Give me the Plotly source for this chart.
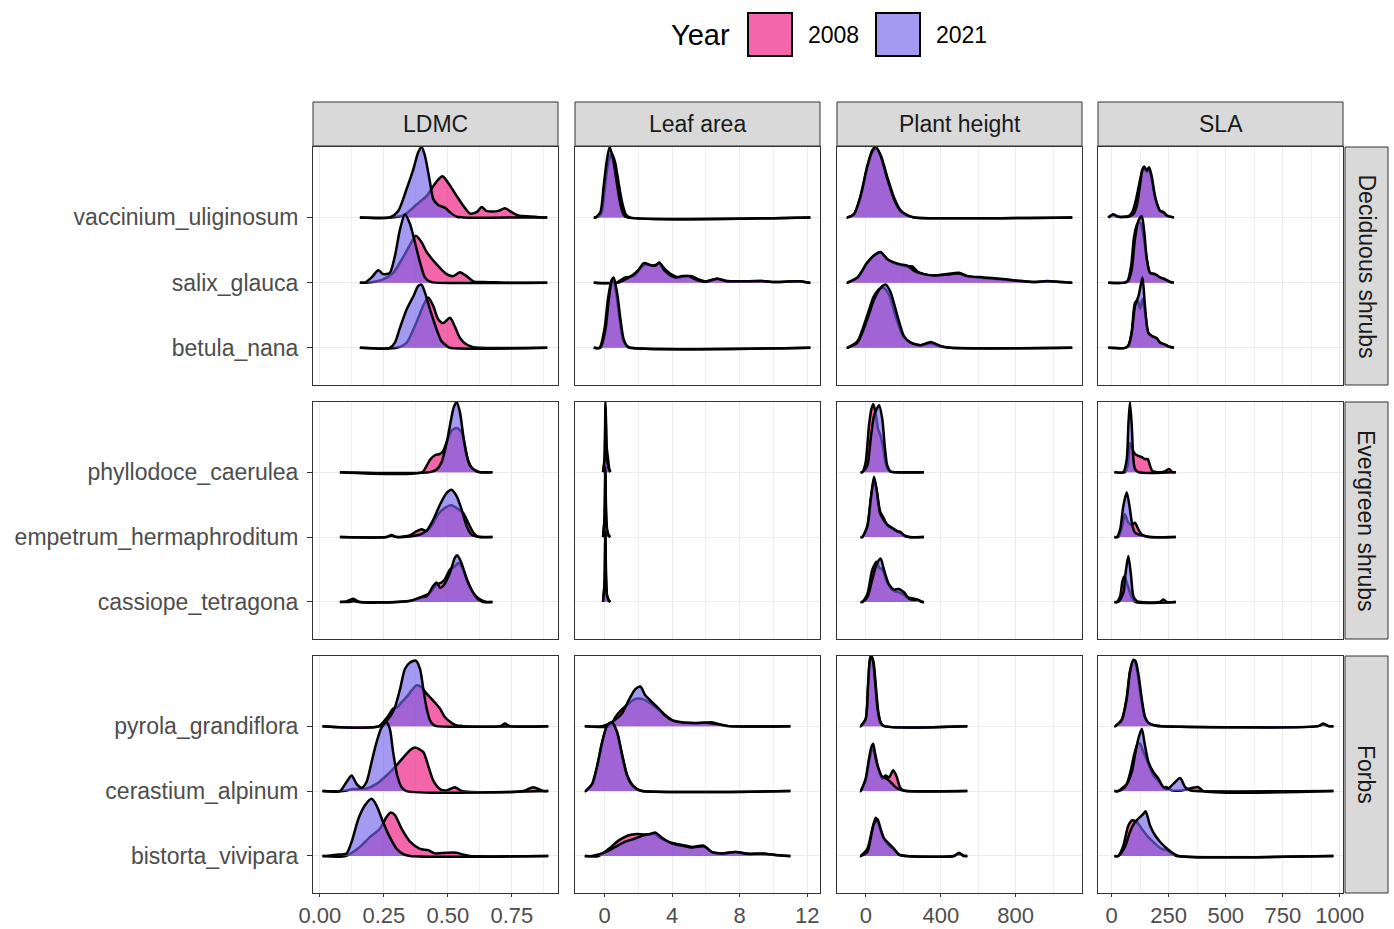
import plotly.graph_objects as go

W, H = 1394, 929

# ---------------- data ----------------
traits = ["LDMC", "Leaf area", "Plant height", "SLA"]
groups = ["Deciduous shrubs", "Evergreen shrubs", "Forbs"]
species_by_group = {
    "Deciduous shrubs": ["vaccinium_uliginosum", "salix_glauca", "betula_nana"],
    "Evergreen shrubs": ["phyllodoce_caerulea", "empetrum_hermaphroditum", "cassiope_tetragona"],
    "Forbs": ["pyrola_grandiflora", "cerastium_alpinum", "bistorta_vivipara"],
}
years = ["2008", "2021"]

x_tick_vals = {
    "LDMC": [0, 0.25, 0.5, 0.75],
    "Leaf area": [0, 4, 8, 12],
    "Plant height": [0, 400, 800],
    "SLA": [0, 250, 500, 750, 1000],
}
x_tick_text = {
    "LDMC": ["0.00", "0.25", "0.50", "0.75"],
    "Leaf area": ["0", "4", "8", "12"],
    "Plant height": ["0", "400", "800"],
    "SLA": ["0", "250", "500", "750", "1000"],
}
x_minor_vals = {
    "LDMC": [0.125, 0.375, 0.625, 0.875],
    "Leaf area": [2, 6, 10],
    "Plant height": [200, 600, 1000],
    "SLA": [125, 375, 625, 875],
}

# data extent of each panel's ridgelines (group -> trait -> [min, max])
extent = {
    "Deciduous shrubs": {"LDMC": [0.156, 0.888], "Leaf area": [-0.64, 12.18],
                         "Plant height": [-103, 1103], "SLA": [-15, 273]},
    "Evergreen shrubs": {"LDMC": [0.078, 0.674], "Leaf area": [-0.09, 0.34],
                         "Plant height": [-29, 310], "SLA": [12, 281]},
    "Forbs": {"LDMC": [0.01, 0.892], "Leaf area": [-1.17, 11.0],
              "Plant height": [-32, 542], "SLA": [12, 972]},
}

# density curves: species -> year -> (x values, relative heights)
ldmc_deciduous = {
    "vaccinium_uliginosum": {
        "2008": ([0.28, 0.326, 0.378, 0.417, 0.443, 0.462, 0.479, 0.508, 0.534, 0.56, 0.586, 0.612, 0.632, 0.651, 0.677, 0.697, 0.723, 0.749, 0.775, 0.82, 0.872],
                 [0, 0.03, 0.2, 0.33, 0.48, 0.58, 0.63, 0.49, 0.33, 0.18, 0.06, 0.08, 0.16, 0.1, 0.09, 0.1, 0.14, 0.08, 0.03, 0.015, 0]),
        "2021": ([0.273, 0.306, 0.339, 0.365, 0.384, 0.397, 0.41, 0.43, 0.443, 0.462, 0.488, 0.508, 0.534, 0.56],
                 [0, 0.1, 0.44, 0.74, 1.0, 1.08, 0.95, 0.54, 0.28, 0.19, 0.15, 0.08, 0.01, 0]),
    },
    "salix_glauca": {
        "2008": ([0.19, 0.247, 0.286, 0.319, 0.352, 0.375, 0.397, 0.417, 0.456, 0.495, 0.521, 0.547, 0.573, 0.599, 0.638, 0.69, 0.74],
                 [0, 0.05, 0.15, 0.35, 0.58, 0.72, 0.62, 0.47, 0.28, 0.13, 0.1, 0.16, 0.1, 0.02, 0.01, 0.005, 0]),
        "2021": ([0.176, 0.202, 0.228, 0.247, 0.273, 0.293, 0.313, 0.332, 0.352, 0.371, 0.391, 0.41, 0.43, 0.449],
                 [0, 0.08, 0.19, 0.13, 0.15, 0.41, 0.82, 1.05, 0.9, 0.62, 0.31, 0.08, 0.015, 0]),
    },
    "betula_nana": {
        "2008": ([0.3, 0.339, 0.378, 0.404, 0.423, 0.443, 0.462, 0.482, 0.508, 0.527, 0.547, 0.573, 0.599, 0.625],
                 [0, 0.08, 0.4, 0.65, 0.77, 0.64, 0.44, 0.38, 0.46, 0.33, 0.15, 0.05, 0.01, 0]),
        "2021": ([0.273, 0.293, 0.313, 0.339, 0.365, 0.384, 0.397, 0.41, 0.43, 0.456, 0.475, 0.495, 0.508],
                 [0, 0.08, 0.31, 0.59, 0.79, 0.95, 0.97, 0.85, 0.59, 0.28, 0.1, 0.03, 0]),
    },
}

leafarea_deciduous = {
    "vaccinium_uliginosum": {
        "2008": ([-0.5, -0.2, 0.0, 0.2, 0.42, 0.62, 0.85, 1.05, 1.25, 1.5],
                 [0, 0.06, 0.4, 0.82, 0.98, 0.85, 0.5, 0.22, 0.05, 0]),
        "2021": ([-0.54, -0.25, -0.05, 0.15, 0.3, 0.5, 0.74, 0.94, 1.13, 1.33],
                 [0, 0.08, 0.49, 0.9, 1.08, 0.9, 0.5, 0.2, 0.04, 0]),
    },
    "salix_glauca": {
        "2008": ([0.7, 1.23, 1.73, 2.12, 2.42, 2.81, 3.01, 3.24, 3.6, 4.0, 4.4, 4.79, 5.18, 5.57, 5.97, 6.66, 7.15, 7.94, 9.32, 9.91, 11.49, 12.1],
                 [0, 0.08, 0.1, 0.22, 0.28, 0.26, 0.27, 0.3, 0.2, 0.12, 0.08, 0.1, 0.1, 0.05, 0.02, 0.06, 0.03, 0.02, 0.025, 0.01, 0.02, 0]),
        "2021": ([0.84, 1.23, 1.73, 2.02, 2.32, 2.71, 3.01, 3.24, 3.5, 3.8, 4.19, 4.59, 4.98, 5.37, 5.97, 6.66, 7.15, 7.94, 9.32, 9.91, 11.49, 12.1],
                 [0, 0.05, 0.13, 0.2, 0.3, 0.27, 0.26, 0.31, 0.2, 0.13, 0.08, 0.1, 0.1, 0.05, 0.01, 0.06, 0.025, 0.02, 0.025, 0.01, 0.02, 0]),
    },
    "betula_nana": {
        "2008": ([-0.3, 0.0, 0.2, 0.4, 0.5, 0.7, 0.9, 1.1, 1.3, 1.5],
                 [0, 0.3, 0.75, 1.02, 1.05, 0.82, 0.42, 0.12, 0.03, 0]),
        "2021": ([-0.25, 0.05, 0.25, 0.44, 0.54, 0.74, 0.94, 1.13, 1.33, 1.53],
                 [0, 0.28, 0.74, 1.05, 1.08, 0.85, 0.44, 0.13, 0.03, 0]),
    },
}

height_deciduous = {
    "vaccinium_uliginosum": {
        "2008": ([-100, -64, -29, 7, 34, 55, 80, 116, 152, 187, 223, 260],
                 [0, 0.05, 0.32, 0.77, 1.0, 1.06, 0.94, 0.6, 0.29, 0.1, 0.03, 0]),
        "2021": ([-100, -64, -29, 7, 34, 52, 78, 114, 150, 185, 221, 257],
                 [0, 0.05, 0.33, 0.79, 1.03, 1.08, 0.95, 0.59, 0.28, 0.1, 0.03, 0]),
    },
    "salix_glauca": {
        "2008": ([-100, -46, 7, 52, 78, 114, 150, 185, 221, 248, 275, 310, 364, 453, 497, 542, 631, 720, 809, 898, 970, 1041, 1100],
                 [0, 0.07, 0.3, 0.43, 0.46, 0.36, 0.3, 0.27, 0.25, 0.25, 0.17, 0.13, 0.11, 0.14, 0.15, 0.1, 0.07, 0.05, 0.03, 0.01, 0.02, 0.01, 0]),
        "2021": ([-100, -46, 7, 52, 78, 114, 150, 185, 221, 257, 310, 364, 453, 497, 542, 631, 720, 809, 898, 970, 1041, 1100],
                 [0, 0.08, 0.31, 0.44, 0.47, 0.36, 0.31, 0.28, 0.26, 0.18, 0.13, 0.11, 0.13, 0.14, 0.1, 0.08, 0.06, 0.03, 0.01, 0.025, 0.01, 0]),
    },
    "betula_nana": {
        "2008": ([-100, -46, 7, 40, 70, 95, 125, 160, 200, 239, 292, 346, 399, 453],
                 [0, 0.1, 0.5, 0.78, 0.9, 0.92, 0.8, 0.47, 0.17, 0.08, 0.04, 0.07, 0.02, 0]),
        "2021": ([-100, -46, 7, 43, 78, 105, 132, 168, 203, 239, 292, 346, 399, 453],
                 [0, 0.08, 0.44, 0.74, 0.92, 0.97, 0.85, 0.49, 0.18, 0.08, 0.04, 0.09, 0.03, 0]),
    },
}

sla_deciduous = {
    "vaccinium_uliginosum": {
        "2008": ([-15, 7, 29, 73, 90, 105, 120, 133, 143, 154, 164, 175, 187, 197, 212, 227, 241, 273],
                 [0, 0.04, 0.01, 0.02, 0.08, 0.25, 0.5, 0.7, 0.75, 0.7, 0.74, 0.6, 0.36, 0.22, 0.1, 0.08, 0.03, 0]),
        "2021": ([-15, 7, 29, 73, 95, 110, 124, 135, 143, 154, 164, 175, 187, 197, 212, 227, 241, 273],
                 [0, 0.05, 0.01, 0.01, 0.05, 0.18, 0.49, 0.74, 0.78, 0.72, 0.77, 0.64, 0.38, 0.23, 0.1, 0.08, 0.03, 0]),
    },
    "salix_glauca": {
        "2008": ([55, 70, 85, 98, 112, 125, 140, 154, 168, 190, 212, 234, 256, 273],
                 [0, 0.03, 0.25, 0.7, 0.9, 0.92, 0.7, 0.36, 0.15, 0.13, 0.08, 0.05, 0.01, 0]),
        "2021": ([60, 73, 88, 102, 117, 132, 143, 154, 168, 190, 212, 234, 256, 273],
                 [0, 0.03, 0.2, 0.67, 0.95, 1.02, 0.77, 0.36, 0.15, 0.13, 0.08, 0.05, 0.01, 0]),
    },
    "betula_nana": {
        "2008": ([60, 75, 88, 102, 114, 124, 135, 146, 161, 178, 197, 212, 234, 249, 273],
                 [0, 0.05, 0.25, 0.69, 0.73, 0.6, 0.75, 0.55, 0.22, 0.17, 0.14, 0.08, 0.05, 0.02, 0]),
        "2021": ([60, 73, 88, 102, 118, 135, 146, 161, 178, 197, 212, 234, 249, 273],
                 [0, 0.03, 0.23, 0.64, 0.8, 1.08, 0.64, 0.23, 0.18, 0.15, 0.08, 0.05, 0.02, 0]),
    },
}

ldmc_evergreen = {
    "phyllodoce_caerulea": {
        "2008": ([0.4, 0.417, 0.432, 0.449, 0.469, 0.482, 0.495, 0.514, 0.534, 0.553, 0.566, 0.579, 0.599, 0.618],
                 [0, 0.1, 0.2, 0.26, 0.28, 0.33, 0.46, 0.64, 0.68, 0.62, 0.41, 0.18, 0.04, 0]),
        "2021": ([0.43, 0.456, 0.475, 0.495, 0.508, 0.523, 0.534, 0.547, 0.56, 0.573, 0.586, 0.605, 0.625],
                 [0, 0.04, 0.15, 0.45, 0.72, 1.0, 1.08, 0.92, 0.56, 0.26, 0.1, 0.03, 0]),
    },
    "empetrum_hermaphroditum": {
        "2008": ([0.078, 0.26, 0.28, 0.3, 0.352, 0.378, 0.397, 0.417, 0.436, 0.462, 0.488, 0.514, 0.54, 0.56, 0.579, 0.599, 0.612, 0.625],
                 [0, 0, 0.03, 0, 0.03, 0.09, 0.12, 0.09, 0.17, 0.35, 0.45, 0.49, 0.43, 0.37, 0.22, 0.07, 0.02, 0]),
        "2021": ([0.078, 0.26, 0.28, 0.3, 0.352, 0.391, 0.417, 0.443, 0.469, 0.495, 0.514, 0.534, 0.553, 0.573, 0.592, 0.612, 0.64],
                 [0, 0, 0.02, 0, 0.01, 0.04, 0.1, 0.27, 0.5, 0.68, 0.73, 0.63, 0.43, 0.17, 0.04, 0.01, 0]),
    },
    "cassiope_tetragona": {
        "2008": ([0.078, 0.104, 0.13, 0.156, 0.3, 0.378, 0.404, 0.43, 0.456, 0.475, 0.488, 0.508, 0.527, 0.54, 0.56, 0.579, 0.599, 0.625, 0.651],
                 [0, 0.01, 0.05, 0.0, 0, 0.04, 0.09, 0.14, 0.27, 0.3, 0.35, 0.5, 0.55, 0.6, 0.5, 0.3, 0.14, 0.04, 0]),
        "2021": ([0.078, 0.11, 0.13, 0.15, 0.3, 0.352, 0.391, 0.417, 0.443, 0.456, 0.469, 0.482, 0.508, 0.527, 0.536, 0.553, 0.573, 0.599, 0.618, 0.638],
                 [0, 0, 0.01, 0, 0, 0.015, 0.07, 0.09, 0.25, 0.3, 0.22, 0.25, 0.45, 0.68, 0.72, 0.6, 0.35, 0.14, 0.04, 0]),
    },
}

leafarea_evergreen = {
    "phyllodoce_caerulea": {
        "2008": ([-0.09, 0.0, 0.06, 0.12, 0.2, 0.28, 0.34], [0, 0.2, 1.0, 0.4, 0.22, 0.05, 0]),
        "2021": ([-0.09, 0.0, 0.05, 0.1, 0.15, 0.25, 0.34], [0, 0.2, 1.08, 0.5, 0.2, 0.05, 0]),
    },
    "empetrum_hermaphroditum": {
        "2008": ([-0.09, 0.0, 0.05, 0.09, 0.15, 0.25, 0.34], [0, 0.3, 1.02, 0.4, 0.12, 0.02, 0]),
        "2021": ([-0.09, 0.0, 0.04, 0.08, 0.14, 0.25, 0.34], [0, 0.3, 1.08, 0.4, 0.1, 0.02, 0]),
    },
    "cassiope_tetragona": {
        "2008": ([-0.09, 0.0, 0.05, 0.09, 0.15, 0.25, 0.34], [0, 0.3, 1.05, 0.4, 0.1, 0.03, 0]),
        "2021": ([-0.09, 0.0, 0.04, 0.08, 0.14, 0.25, 0.34], [0, 0.3, 1.08, 0.4, 0.1, 0.02, 0]),
    },
}

height_evergreen = {
    "phyllodoce_caerulea": {
        "2008": ([-20, -2, 16, 29, 39, 52, 64, 78, 93, 105, 123, 141],
                 [0, 0.15, 0.72, 0.97, 1.05, 0.9, 0.67, 0.56, 0.36, 0.13, 0.02, 0]),
        "2021": ([-20, 7, 25, 43, 57, 70, 87, 100, 114, 132, 150],
                 [0, 0.1, 0.51, 0.87, 0.97, 1.03, 0.82, 0.41, 0.1, 0.01, 0]),
    },
    "empetrum_hermaphroditum": {
        "2008": ([-20, 7, 25, 43, 57, 75, 93, 114, 141, 168, 185, 203, 230],
                 [0, 0.15, 0.55, 0.9, 0.72, 0.4, 0.3, 0.18, 0.13, 0.08, 0.06, 0.02, 0]),
        "2021": ([-20, 7, 25, 43, 57, 75, 93, 114, 141, 168, 185, 203, 230],
                 [0, 0.17, 0.58, 0.93, 0.73, 0.37, 0.27, 0.19, 0.14, 0.09, 0.08, 0.03, 0]),
    },
    "cassiope_tetragona": {
        "2008": ([-20, 7, 34, 57, 70, 87, 114, 150, 185, 221, 257, 275, 301],
                 [0, 0.12, 0.5, 0.62, 0.53, 0.5, 0.3, 0.17, 0.14, 0.07, 0.05, 0.03, 0]),
        "2021": ([-20, 7, 34, 57, 78, 96, 123, 150, 176, 203, 230, 257, 275, 301],
                 [0, 0.07, 0.35, 0.58, 0.67, 0.5, 0.27, 0.19, 0.2, 0.15, 0.05, 0.03, 0.04, 0]),
    },
}

sla_evergreen = {
    "phyllodoce_caerulea": {
        "2008": ([58, 70, 80, 91, 102, 117, 132, 146, 158, 168, 178, 200, 219, 234, 251, 266],
                 [0, 0.1, 0.45, 0.35, 0.28, 0.25, 0.23, 0.2, 0.2, 0.1, 0.02, 0.0, 0, 0.01, 0.05, 0]),
        "2021": ([51, 66, 73, 80, 88, 95, 102, 117],
                 [0, 0.2, 0.72, 1.08, 0.72, 0.2, 0.05, 0]),
    },
    "empetrum_hermaphroditum": {
        "2008": ([29, 44, 58, 73, 88, 102, 117, 132, 146, 161],
                 [0, 0.14, 0.35, 0.22, 0.19, 0.22, 0.12, 0.04, 0.015, 0]),
        "2021": ([22, 37, 51, 66, 80, 91, 102, 117, 146, 175],
                 [0, 0.12, 0.48, 0.69, 0.43, 0.17, 0.07, 0.04, 0.015, 0]),
    },
    "cassiope_tetragona": {
        "2008": ([22, 37, 47, 56, 66, 76, 88, 102],
                 [0, 0.09, 0.32, 0.4, 0.3, 0.19, 0.07, 0]),
        "2021": ([29, 51, 61, 73, 85, 95, 110, 212, 227, 241],
                 [0, 0.14, 0.45, 0.71, 0.4, 0.09, 0.015, 0, 0.04, 0]),
    },
}

ldmc_forbs = {
    "pyrola_grandiflora": {
        "2008": ([0.23, 0.267, 0.286, 0.302, 0.319, 0.339, 0.358, 0.378, 0.397, 0.417, 0.443, 0.469, 0.488, 0.514, 0.534, 0.56, 0.703, 0.723, 0.742],
                 [0, 0.16, 0.27, 0.29, 0.37, 0.45, 0.55, 0.63, 0.6, 0.5, 0.39, 0.27, 0.14, 0.05, 0.01, 0, 0, 0.04, 0]),
        "2021": ([0.235, 0.273, 0.293, 0.313, 0.332, 0.352, 0.375, 0.391, 0.404, 0.417, 0.43, 0.443, 0.456],
                 [0, 0.14, 0.29, 0.57, 0.88, 0.98, 1.01, 0.88, 0.57, 0.27, 0.09, 0.02, 0]),
    },
    "cerastium_alpinum": {
        "2008": ([0.091, 0.13, 0.182, 0.221, 0.26, 0.293, 0.326, 0.352, 0.371, 0.404, 0.423, 0.443, 0.469, 0.495, 0.527, 0.553, 0.794, 0.833, 0.872],
                 [0, 0.03, 0.04, 0.11, 0.24, 0.37, 0.52, 0.63, 0.67, 0.6, 0.39, 0.16, 0.03, 0.01, 0.06, 0, 0, 0.06, 0]),
        "2021": ([0.078, 0.104, 0.124, 0.143, 0.163, 0.182, 0.202, 0.221, 0.241, 0.26, 0.273, 0.286, 0.302, 0.319, 0.339],
                 [0, 0.14, 0.24, 0.11, 0.05, 0.14, 0.45, 0.75, 0.98, 1.06, 0.96, 0.6, 0.24, 0.06, 0]),
    },
    "bistorta_vivipara": {
        "2008": ([0.1, 0.156, 0.195, 0.234, 0.26, 0.276, 0.293, 0.319, 0.352, 0.391, 0.423, 0.449, 0.495, 0.534, 0.56, 0.586],
                 [0, 0.14, 0.29, 0.42, 0.6, 0.67, 0.63, 0.42, 0.22, 0.11, 0.09, 0.04, 0.05, 0.05, 0.02, 0]),
        "2021": ([0.013, 0.065, 0.104, 0.124, 0.15, 0.176, 0.202, 0.221, 0.247, 0.273, 0.3, 0.326, 0.352],
                 [0, 0.02, 0.04, 0.22, 0.57, 0.78, 0.88, 0.78, 0.52, 0.29, 0.11, 0.03, 0]),
    },
}

leafarea_forbs = {
    "pyrola_grandiflora": {
        "2008": ([0.3, 0.64, 1.04, 1.43, 1.82, 2.22, 2.61, 3.01, 3.5, 4.0, 4.59, 5.57, 6.36, 6.76, 7.35],
                 [0, 0.14, 0.26, 0.35, 0.42, 0.42, 0.37, 0.29, 0.19, 0.09, 0.05, 0.045, 0.06, 0.03, 0]),
        "2021": ([-0.15, 0.25, 0.64, 1.04, 1.43, 1.82, 2.12, 2.42, 2.81, 3.21, 3.6, 4.0, 4.59, 5.37, 6.16, 6.76, 7.35],
                 [0, 0.04, 0.1, 0.2, 0.4, 0.57, 0.61, 0.47, 0.37, 0.27, 0.16, 0.09, 0.06, 0.05, 0.05, 0.03, 0]),
    },
    "cerastium_alpinum": {
        "2008": ([-1.13, -0.74, -0.44, -0.15, 0.15, 0.44, 0.74, 1.04, 1.33, 1.63, 1.92, 2.22],
                 [0, 0.1, 0.37, 0.73, 1.0, 1.05, 0.9, 0.56, 0.25, 0.1, 0.03, 0]),
        "2021": ([-1.13, -0.74, -0.44, -0.15, 0.15, 0.44, 0.74, 1.04, 1.33, 1.63, 1.92, 2.22],
                 [0, 0.11, 0.39, 0.75, 1.01, 1.06, 0.91, 0.55, 0.24, 0.09, 0.03, 0]),
    },
    "bistorta_vivipara": {
        "2008": ([-0.35, 0.25, 0.84, 1.43, 1.92, 2.42, 2.91, 3.4, 4.0, 4.59, 5.18, 5.87, 6.36, 6.95, 7.74, 8.53, 9.32, 10.31, 10.9],
                 [0, 0.11, 0.24, 0.32, 0.34, 0.33, 0.34, 0.26, 0.2, 0.17, 0.14, 0.16, 0.06, 0.04, 0.06, 0.035, 0.035, 0.01, 0]),
        "2021": ([-0.74, 0.05, 0.64, 1.23, 1.82, 2.32, 2.71, 3.01, 3.4, 4.0, 4.59, 5.18, 5.87, 6.36, 6.95, 7.74, 8.53, 9.32, 10.31, 10.9],
                 [0, 0.06, 0.14, 0.22, 0.27, 0.32, 0.34, 0.36, 0.28, 0.19, 0.16, 0.13, 0.15, 0.06, 0.04, 0.06, 0.03, 0.04, 0.01, 0]),
    },
}

height_forbs = {
    "pyrola_grandiflora": {
        "2008": ([-29, -2, 11, 21, 31, 41, 54, 66, 80, 98],
                 [0, 0.1, 0.6, 1.0, 1.06, 0.97, 0.57, 0.22, 0.05, 0]),
        "2021": ([-29, -2, 11, 21, 29, 39, 52, 64, 78, 96],
                 [0, 0.11, 0.63, 1.04, 1.09, 0.98, 0.57, 0.22, 0.05, 0]),
    },
    "cerastium_alpinum": {
        "2008": ([-29, -2, 16, 34, 46, 64, 87, 105, 123, 146, 164, 182, 200, 221],
                 [0, 0.16, 0.45, 0.65, 0.6, 0.37, 0.19, 0.24, 0.21, 0.32, 0.22, 0.06, 0.01, 0]),
        "2021": ([-29, -2, 16, 29, 39, 52, 70, 87, 105, 123, 141, 159, 185, 212],
                 [0, 0.19, 0.5, 0.68, 0.73, 0.5, 0.32, 0.22, 0.2, 0.16, 0.11, 0.06, 0.02, 0]),
    },
    "bistorta_vivipara": {
        "2008": ([-29, 7, 34, 52, 64, 78, 96, 123, 150, 176, 212, 471, 497, 524],
                 [0, 0.11, 0.42, 0.59, 0.52, 0.4, 0.27, 0.16, 0.1, 0.02, 0, 0, 0.04, 0]),
        "2021": ([-29, 7, 25, 43, 61, 78, 96, 123, 150, 176, 212, 471, 497, 524],
                 [0, 0.06, 0.27, 0.5, 0.57, 0.42, 0.27, 0.19, 0.11, 0.02, 0, 0, 0.05, 0]),
    },
}

sla_forbs = {
    "pyrola_grandiflora": {
        "2008": ([15, 44, 66, 80, 93, 103, 115, 130, 146, 161, 190, 219, 906, 928, 950],
                 [0, 0.1, 0.44, 0.84, 1.0, 0.98, 0.78, 0.4, 0.13, 0.05, 0.01, 0, 0, 0.03, 0]),
        "2021": ([15, 44, 66, 80, 95, 105, 117, 132, 146, 161, 190, 219, 906, 928, 950],
                 [0, 0.09, 0.42, 0.83, 1.02, 1.0, 0.8, 0.42, 0.14, 0.05, 0.01, 0, 0, 0.04, 0]),
    },
    "cerastium_alpinum": {
        "2008": ([29, 51, 66, 85, 99, 114, 124, 139, 161, 183, 205, 227, 241, 263, 307, 380, 402],
                 [0, 0.06, 0.11, 0.34, 0.57, 0.73, 0.73, 0.6, 0.42, 0.24, 0.16, 0.06, 0.06, 0.01, 0.01, 0.06, 0]),
        "2021": ([29, 58, 88, 102, 117, 132, 146, 161, 183, 205, 227, 249, 270, 300, 322, 344, 365],
                 [0, 0.06, 0.29, 0.55, 0.81, 0.96, 0.7, 0.45, 0.29, 0.19, 0.06, 0.04, 0.11, 0.2, 0.06, 0.01, 0]),
    },
    "bistorta_vivipara": {
        "2008": ([29, 51, 73, 91, 110, 132, 161, 190, 219, 241, 263, 285],
                 [0, 0.16, 0.47, 0.55, 0.52, 0.42, 0.29, 0.19, 0.11, 0.09, 0.04, 0]),
        "2021": ([29, 58, 80, 102, 124, 139, 149, 168, 190, 212, 234, 251, 270, 292],
                 [0, 0.14, 0.37, 0.52, 0.6, 0.65, 0.69, 0.47, 0.32, 0.22, 0.14, 0.09, 0.04, 0]),
    },
}

panels = {
    ("Deciduous shrubs", "LDMC"): ldmc_deciduous,
    ("Deciduous shrubs", "Leaf area"): leafarea_deciduous,
    ("Deciduous shrubs", "Plant height"): height_deciduous,
    ("Deciduous shrubs", "SLA"): sla_deciduous,
    ("Evergreen shrubs", "LDMC"): ldmc_evergreen,
    ("Evergreen shrubs", "Leaf area"): leafarea_evergreen,
    ("Evergreen shrubs", "Plant height"): height_evergreen,
    ("Evergreen shrubs", "SLA"): sla_evergreen,
    ("Forbs", "LDMC"): ldmc_forbs,
    ("Forbs", "Leaf area"): leafarea_forbs,
    ("Forbs", "Plant height"): height_forbs,
    ("Forbs", "SLA"): sla_forbs,
}

# ---------------- styling / layout ----------------
FILL = {"2008": "rgba(237,20,125,0.65)", "2021": "rgba(115,100,235,0.65)"}
FONT = "Liberation Sans, Arial, Helvetica, sans-serif"
AX_TEXT = 23
X_TEXT = 22
GRID = "#EBEBEB"
BORDER = "#333333"

col_px = [(313, 558), (575, 820), (837, 1082), (1098, 1343)]
row_px = [(147, 385), (402, 639), (656, 893)]
x_view = {"LDMC": [-0.027, 0.93], "Leaf area": [-1.75, 12.75],
          "Plant height": [-155, 1155], "SLA": [-60, 1014]}
y_view = [0.43, 4.08]


def fx(px):
    return px / W


def fy(py):
    return 1 - py / H


fig = go.Figure()
layout = dict(
    width=W, height=H, margin=dict(l=0, r=0, t=0, b=0),
    paper_bgcolor="white", plot_bgcolor="white", showlegend=False,
    font=dict(family=FONT, size=AX_TEXT, color="#4D4D4D"),
)

for r, grp in enumerate(groups):
    sp_list = species_by_group[grp]
    for c, tr in enumerate(traits):
        n = r * 4 + c + 1
        xa = "x" if n == 1 else f"x{n}"
        ya = "y" if n == 1 else f"y{n}"
        lo, hi = extent[grp][tr]
        data = panels[(grp, tr)]
        for i, sp in enumerate(sp_list):
            base = len(sp_list) - i
            for yr in years:
                xs, hs = data[sp][yr]
                X = [lo] + list(xs) + [hi]
                Y = [base] + [base + h for h in hs] + [base]
                fig.add_trace(go.Scatter(
                    x=X, y=Y, xaxis=xa, yaxis=ya, mode="lines",
                    line=dict(color="black", width=2.5, shape="spline", smoothing=0.7),
                    fill="toself", fillcolor=FILL[yr], hoverinfo="skip",
                    name=yr,
                ))
        bottom = (r == len(groups) - 1)
        left = (c == 0)
        layout["xaxis" if n == 1 else f"xaxis{n}"] = dict(
            domain=[fx(col_px[c][0]), fx(col_px[c][1])],
            anchor=ya, range=x_view[tr],
            tickmode="array", tickvals=x_tick_vals[tr], ticktext=x_tick_text[tr],
            showticklabels=bottom, ticks="outside" if bottom else "",
            ticklen=3, tickwidth=1, tickcolor=BORDER,
            tickfont=dict(size=X_TEXT, color="#4D4D4D"),
            showgrid=True, gridcolor=GRID, gridwidth=1.4,
            minor=dict(tickmode="array", tickvals=x_minor_vals[tr], showgrid=True,
                       gridcolor="#F0F0F0", gridwidth=0.9, ticks=""),
            zeroline=False, showline=True, mirror=True, linecolor=BORDER, linewidth=1,
            automargin=False, fixedrange=True,
        )
        layout["yaxis" if n == 1 else f"yaxis{n}"] = dict(
            domain=[fy(row_px[r][1]), fy(row_px[r][0])],
            anchor=xa, range=y_view,
            tickmode="array", tickvals=[3, 2, 1], ticktext=sp_list,
            showticklabels=left, ticks="outside" if left else "",
            ticklen=5, tickwidth=1, tickcolor=BORDER,
            ticklabelstandoff=4,
            tickfont=dict(size=AX_TEXT, color="#4D4D4D"),
            showgrid=True, gridcolor=GRID, gridwidth=1.4,
            zeroline=False, showline=True, mirror=True, linecolor=BORDER, linewidth=1,
            automargin=False, fixedrange=True,
        )

shapes = []
annotations = []
# top strips
for c, tr in enumerate(traits):
    x0, x1 = col_px[c]
    shapes.append(dict(type="rect", xref="paper", yref="paper",
                       x0=fx(x0), x1=fx(x1), y0=fy(146), y1=fy(102),
                       fillcolor="#D9D9D9", line=dict(color=BORDER, width=1)))
    annotations.append(dict(xref="paper", yref="paper", x=fx((x0 + x1) / 2), y=fy(124),
                            text=tr, showarrow=False, xanchor="center", yanchor="middle",
                            font=dict(size=AX_TEXT, color="#1A1A1A", family=FONT)))
# right strips
for r, grp in enumerate(groups):
    y0, y1 = row_px[r]
    shapes.append(dict(type="rect", xref="paper", yref="paper",
                       x0=fx(1345), x1=fx(1388), y0=fy(y1), y1=fy(y0),
                       fillcolor="#D9D9D9", line=dict(color=BORDER, width=1)))
    annotations.append(dict(xref="paper", yref="paper", x=fx(1366.5), y=fy((y0 + y1) / 2),
                            text=grp, showarrow=False, textangle=90,
                            xanchor="center", yanchor="middle",
                            font=dict(size=AX_TEXT, color="#1A1A1A", family=FONT)))

# legend (drawn manually)
annotations.append(dict(xref="paper", yref="paper", x=fx(669), y=fy(35), text="Year",
                        showarrow=False, xanchor="left", yanchor="middle",
                        font=dict(size=29, color="black", family=FONT)))
legend_boxes = [(748, 792, 806), (876, 920, 934)]
for (bx0, bx1, tx), yr in zip(legend_boxes, years):
    shapes.append(dict(type="rect", xref="paper", yref="paper",
                       x0=fx(bx0), x1=fx(bx1), y0=fy(56), y1=fy(13),
                       fillcolor=FILL[yr], line=dict(color="black", width=2)))
    annotations.append(dict(xref="paper", yref="paper", x=fx(tx), y=fy(35), text=yr,
                            showarrow=False, xanchor="left", yanchor="middle",
                            font=dict(size=AX_TEXT, color="black", family=FONT)))

layout["shapes"] = shapes
layout["annotations"] = annotations
fig.update_layout(**layout)
fig.write_html("out.html")
